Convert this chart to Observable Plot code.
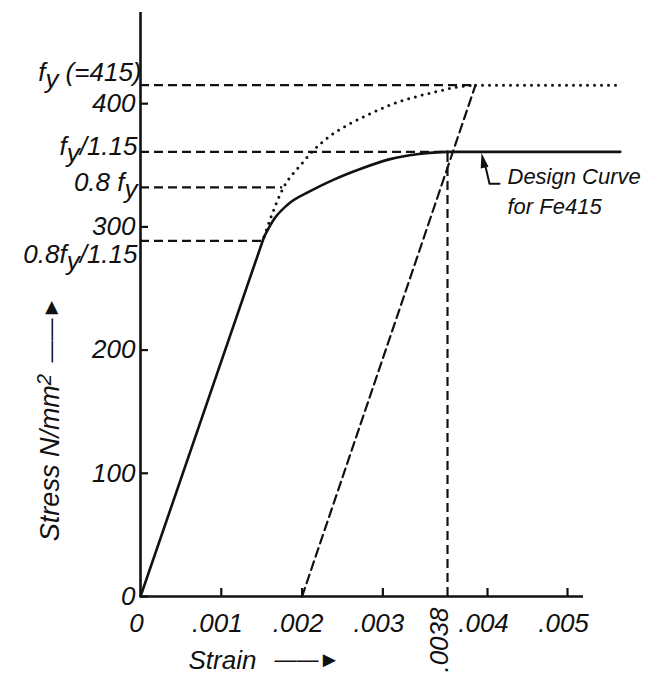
<!DOCTYPE html>
<html><head><meta charset="utf-8">
<script src="https://cdn.jsdelivr.net/npm/d3@7"></script>
<script src="https://cdn.jsdelivr.net/npm/@observablehq/plot@0.6"></script>
<style>
html,body{margin:0;padding:0;background:#fff;}
#chart svg{display:block;}
</style></head><body><div id="chart"></div>
<script>
// ---------- data (strain: mm/mm, stress: N/mm²) ----------
const yTicks = [0, 100, 200, 300, 400];
const xTicks = [0, 0.001, 0.002, 0.003, 0.004, 0.005];
const xTickLabels = ["0", ".001", ".002", ".003", ".004", ".005"];
const markedStrain = 0.0038;
const markedStrainLabel = ".0038";

const levelValues = [415, 360.9, 332, 288.7];
const levelLabels = ["f_y (=415)", "f_y/1.15", "0.8 f_y", "0.8f_y/1.15"];
const levelEnds = [0.00394, 0.0038, 0.00176, 0.00151];

// design curve (solid)
const elasticStrain = [0, 0.00153];
const elasticStress = [0, 292];
const designStrain = [0.00153, 0.00165, 0.00182, 0.0021, 0.00238, 0.00272, 0.00309, 0.00342, 0.00367, 0.0038];
const designStress = [292, 306, 318, 329, 338, 347, 355, 359, 360.5, 360.9];
const designFlatStrain = [0.0038, 0.00566];
const designFlatStress = [360.9, 360.9];

// characteristic curve (dotted)
const charStrain = [0.00153, 0.00161, 0.00177, 0.00198, 0.00214, 0.00235, 0.0026, 0.00285, 0.00309, 0.00343, 0.00368, 0.00385, 0.00394];
const charStress = [292, 307, 332, 350, 362, 374, 384, 392, 399, 406, 410, 413.5, 415];
const charFlatStrain = [0.00394, 0.00568];
const charFlatStress = [415, 415];

// 0.002 offset line (dashed)
const offsetStrain = [0.002, 0.00394];
const offsetStress = [0, 415];

// annotation
const noteText = "Design Curve\nfor Fe415";
const noteStrain = 0.00425;
const noteStress = 330.5;
const pointerStrain = [0.00399, 0.004025, 0.00415];
const pointerStress = [349, 335, 335];
const pointerTip = {strain: 0.00397, stress: 360};

const yTitle = "Stress N/mm^2";
const xTitle = "Strain";
const arrowGlyph = "——►";

// ---------- build ----------
const pts = (xs, ys) => xs.map((x, i) => ({x, y: ys[i]}));
const ink = "#111";
const dash = "9,5";
const font = "Liberation Sans, Arial, Helvetica, sans-serif";

const narrowTriangle = {
  draw(ctx, size) {
    ctx.moveTo(0, 0);
    ctx.lineTo(-4, 15);
    ctx.lineTo(4, 15);
    ctx.closePath();
  }
};

const plot = Plot.plot({
  width: 656,
  height: 677,
  marginLeft: 140,
  marginRight: 9,
  marginTop: 12,
  marginBottom: 81,
  style: {fontFamily: font, fontStyle: "italic", color: ink, background: "#fff"},
  // the drawing's strain axis is schematic: .0038 sits between .003 and .004 with extra room
  x: {type: "linear", domain: [0, 0.0038, 0.004, 0.006], range: [140, 447, 487, 647]},
  y: {type: "linear", domain: [0, 474]},
  marks: [
    // axis lines
    Plot.ruleX([0], {y1: 0, y2: 474, stroke: ink, strokeWidth: 2.6}),
    Plot.ruleY([0], {x1: 0, x2: 0.0052, stroke: ink, strokeWidth: 2.6}),
    Plot.axisY(yTicks, {tickSize: -8, tickPadding: 13, strokeWidth: 2.2, fontSize: 26, fill: ink, stroke: ink}),
    Plot.axisX(xTicks.filter(d => d > 0), {tickSize: -8, tickPadding: 0, tickFormat: () => "", strokeWidth: 2.2, stroke: ink}),
    Plot.axisX(xTicks, {tickSize: 0, tickPadding: 17, tickFormat: d => xTickLabels[xTicks.indexOf(d)], fontSize: 26, fill: ink, dx: -4}),
    // horizontal guide lines (dashed)
    Plot.ruleY(levelValues, {y: d => d, x1: 0, x2: (d, i) => levelEnds[i], stroke: ink, strokeWidth: 2.2, strokeDasharray: dash}),
    // vertical guide at 0.0038
    Plot.ruleX([markedStrain], {x: d => d, y1: 0, y2: levelValues[1], stroke: ink, strokeWidth: 2.2, strokeDasharray: dash}),
    // offset line
    Plot.line(pts(offsetStrain, offsetStress), {x: "x", y: "y", stroke: ink, strokeWidth: 2.2, strokeDasharray: dash}),
    // characteristic curve (dotted)
    Plot.line(pts(charStrain, charStress), {x: "x", y: "y", curve: "monotone-x", stroke: ink, strokeWidth: 3, strokeDasharray: "0,7", strokeLinecap: "round"}),
    Plot.line(pts(charFlatStrain, charFlatStress), {x: "x", y: "y", stroke: ink, strokeWidth: 3, strokeDasharray: "0,7", strokeLinecap: "round"}),
    // design curve (solid)
    Plot.line(pts(elasticStrain, elasticStress), {x: "x", y: "y", stroke: ink, strokeWidth: 2.6}),
    Plot.line(pts(designStrain, designStress), {x: "x", y: "y", curve: "monotone-x", stroke: ink, strokeWidth: 2.6}),
    Plot.line(pts(designFlatStrain, designFlatStress), {x: "x", y: "y", stroke: ink, strokeWidth: 2.6}),
    // level labels
    Plot.text(levelValues.slice(0, 1), {x: 0, y: d => d, text: () => levelLabels[0], textAnchor: "end", dx: 1, dy: -13, fontSize: 26, fill: ink}),
    Plot.text(levelValues.slice(1, 3), {x: 0, y: d => d, text: (d, i) => levelLabels[1 + i], textAnchor: "end", dx: -3, dy: -5, fontSize: 26, fill: ink}),
    Plot.text(levelValues.slice(3), {x: 0, y: d => d, text: () => levelLabels[3], textAnchor: "end", dx: -3, dy: 14, fontSize: 26, fill: ink}),
    // .0038 label
    Plot.text([markedStrain], {x: d => d, frameAnchor: "bottom", text: () => markedStrainLabel, rotate: -90, textAnchor: "end", dy: 11, fontSize: 26, fill: ink}),
    // annotation
    Plot.text([noteText], {x: noteStrain, y: noteStress, textAnchor: "start", lineHeight: 1.36, fontSize: 22, fill: ink}),
    Plot.line(pts(pointerStrain, pointerStress), {x: "x", y: "y", stroke: ink, strokeWidth: 2}),
    Plot.dot([pointerTip], {x: "strain", y: "stress", symbol: narrowTriangle, r: 5, fill: ink, stroke: "none", rotate: -12}),
    // axis titles
    Plot.text([yTitle], {frameAnchor: "left", rotate: -90, textAnchor: "middle", dx: -90, dy: 153, fontSize: 27, fill: ink}),
    Plot.text([arrowGlyph], {frameAnchor: "left", rotate: -90, textAnchor: "start", dx: -90, dy: 58, fontSize: 22, fill: ink, fontStyle: "normal"}),
    Plot.text([xTitle], {frameAnchor: "bottom-left", textAnchor: "start", dx: 48, dy: 72, fontSize: 26, fill: ink}),
    Plot.text([arrowGlyph], {frameAnchor: "bottom-left", textAnchor: "start", dx: 134, dy: 70, fontSize: 22, fill: ink, fontStyle: "normal"})
  ]
});

// subscript "y" in level labels, superscript "2" in the stress unit
d3.select(plot).selectAll("text").each(function() {
  const t = d3.select(this);
  if (this.querySelector("tspan")) return;
  const s = this.textContent;
  if (s.includes("_y")) {
    const [a, b] = s.split("_y");
    t.text(null);
    t.append("tspan").text(a);
    t.append("tspan").attr("dy", "0.28em").text("y");
    t.append("tspan").attr("dy", "-0.28em").text(b);
  } else if (s.includes("^2")) {
    const [a, b] = s.split("^2");
    t.text(null);
    t.append("tspan").text(a);
    t.append("tspan").attr("dy", "-0.4em").attr("font-size", "0.75em").text("2");
    if (b) t.append("tspan").attr("dy", "0.3em").text(b);
  }
});

document.getElementById("chart").append(plot);
</script>
</body></html>
